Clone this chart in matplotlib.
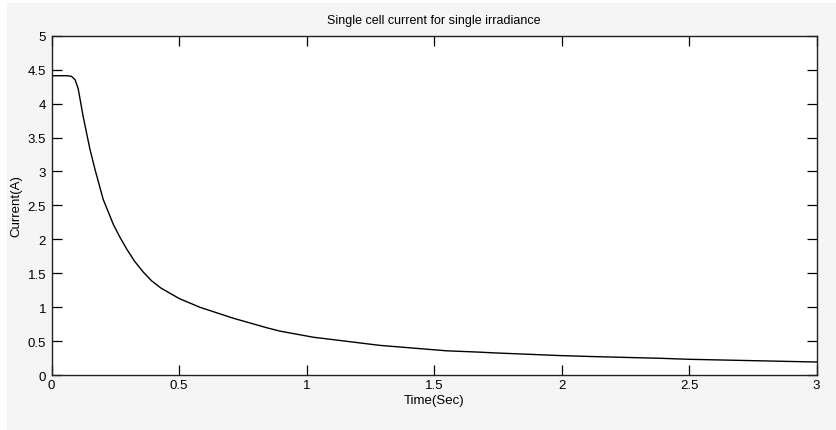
import matplotlib
matplotlib.use('Agg')
import matplotlib.pyplot as plt
from matplotlib import patches

# values
time_s = [0.0, 0.06, 0.078, 0.092, 0.104, 0.124, 0.150, 0.170, 0.202, 0.242,
          0.268, 0.294, 0.325, 0.359, 0.392, 0.43, 0.50, 0.582, 0.712, 0.843,
          0.895, 1.026, 1.157, 1.287, 1.418, 1.549, 1.68, 1.732, 1.863, 1.993,
          2.124, 2.385, 2.5, 2.75, 3.0]
current_a = [4.41, 4.41, 4.40, 4.35, 4.22, 3.80, 3.33, 3.03, 2.59, 2.22,
             2.03, 1.86, 1.68, 1.52, 1.39, 1.28, 1.13, 1.00, 0.84, 0.70,
             0.65, 0.56, 0.50, 0.44, 0.40, 0.36, 0.34, 0.33, 0.31, 0.29,
             0.275, 0.25, 0.235, 0.215, 0.195]

x_ticks = [0, 0.5, 1, 1.5, 2, 2.5, 3]
x_labels = ['0', '0.5', '1', '1.5', '2', '2.5', '3']
y_ticks = [0, 0.5, 1, 1.5, 2, 2.5, 3, 3.5, 4, 4.5, 5]
y_labels = ['0', '0.5', '1', '1.5', '2', '2.5', '3', '3.5', '4', '4.5', '5']

plt.rcParams['font.family'] = ['Liberation Sans', 'DejaVu Sans']

fig = plt.figure(figsize=(8.36, 4.31), dpi=100, facecolor='white')
# light grey panel like the matlab figure window
fig.patches.append(patches.Rectangle((7 / 836, 0), 1 - 7 / 836, 1 - 4 / 431,
                                     transform=fig.transFigure, facecolor='#f5f5f5',
                                     edgecolor='none', zorder=-10))

ax = fig.add_axes([0.0618, 0.127, 0.915, 0.788])
ax.plot(time_s, current_a, color='black', lw=1.0)

ax.set_xlim(0, 3)
ax.set_ylim(0, 5)
ax.set_xticks(x_ticks)
ax.set_xticklabels(x_labels)
ax.set_yticks(y_ticks)
ax.set_yticklabels(y_labels)
ax.tick_params(direction='in', length=7, width=0.9, labelsize=9.5,
               top=True, right=True, colors='black', pad=3)
ax.tick_params(axis='y', pad=4)
for s in ax.spines.values():
    s.set_linewidth(1.0)
    s.set_color('#222222')

ax.set_title('Single cell current for single irradiance', fontsize=9, pad=9)
ax.set_xlabel('Time(Sec)', fontsize=9.5, labelpad=2)
ax.set_ylabel('Current(A)', fontsize=9.5, labelpad=4)

fig.savefig('out.png', dpi=100, facecolor=fig.get_facecolor())
